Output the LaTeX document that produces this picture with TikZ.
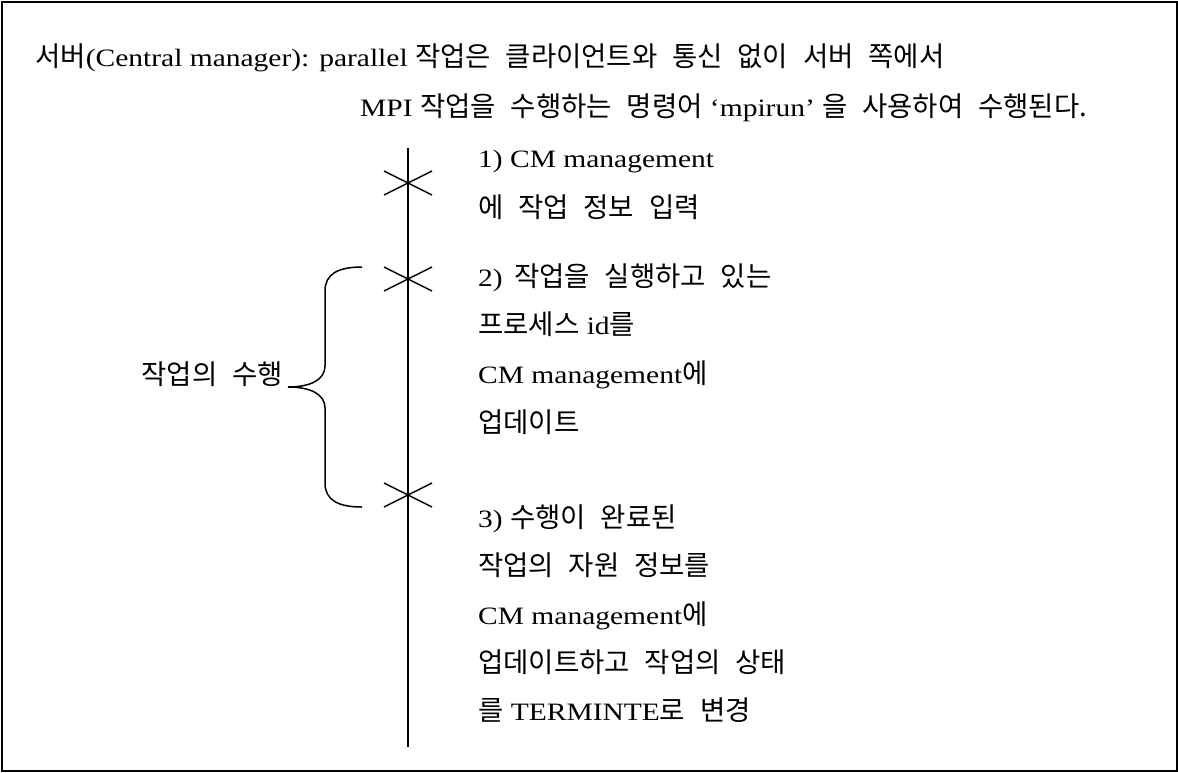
\documentclass[tikz,border=0pt]{standalone}
\usepackage{fontspec}
\setmainfont[FakeStretch=1.18]{Liberation Serif}
\newfontfamily\krfont[Scale=1.1,WordSpace=2.4]{Noto Sans CJK KR}
\newcommand\K[1]{{\krfont #1}}
\begin{document}
\begin{tikzpicture}[x=1pt,y=-1pt,
  txt/.style={anchor=base west,inner sep=0pt,font=\fontsize{25pt}{30pt}\selectfont},
  rule/.style={line width=1.6pt,black},
  crossmark/.style={line width=1.5pt,black},
  bracket/.style={line width=1.5pt,black}]
\useasboundingbox (0,0) rectangle (1178,772);
% frame
\draw[line width=2pt] (1.5,1.5) rectangle (1176.5,770.5);

% heading
\node[txt] (h1) at (35,66) {\K{서버}(Central manager): parallel \K{작업은 클라이언트와 통신 없이 서버 쪽에서}};
\node[txt] (h2) at (360,116) {MPI \K{작업을 수행하는 명령어} ‘mpirun’ \K{을 사용하여 수행된다.}};

% time line with the three events
\coordinate (top) at (408,148);
\coordinate (bot) at (408,747);
\coordinate (c1) at (408,183);
\coordinate (c2) at (408,279);
\coordinate (c3) at (408,495);
\draw[rule] (top) -- (bot);
\foreach \c in {c1,c2,c3}{
  \draw[crossmark] ([shift={(-24,-12)}]\c) -- ([shift={(24,12)}]\c);
  \draw[crossmark] ([shift={(-24,12)}]\c) -- ([shift={(24,-12)}]\c);
}

% step 1
\node[txt] (s1a) at (478,167) {1) CM management};
\node[txt] (s1b) at (478,217) {\K{에 작업 정보 입력}};

% step 2
\node[txt] (s2a) at (478,286) {2)\, \K{작업을 실행하고 있는}};
\node[txt] (s2b) at (478,334) {\K{프로세스} id\K{를}};
\node[txt] (s2c) at (478,383) {CM management\K{에}};
\node[txt] (s2d) at (478,432) {\K{업데이트}};

% step 3
\node[txt] (s3a) at (478,527) {3) \K{수행이 완료된}};
\node[txt] (s3b) at (478,575) {\K{작업의 자원 정보를}};
\node[txt] (s3c) at (478,624) {CM management\K{에}};
\node[txt] (s3d) at (478,672) {\K{업데이트하고 작업의 상태}};
\node[txt] (s3e) at (478,720) {\K{를} TERMINTE\K{로 변경}};

% brace spanning steps 2 and 3
\coordinate (bTop) at (362,267);
\coordinate (bTip) at (288,387);
\coordinate (bBot) at (362,507);
\draw[bracket] (bTop) .. controls (338,267) and (325,274) .. (325,291)
  -- (325,366) .. controls (325,380) and (310,387) .. (bTip)
  .. controls (310,387) and (325,394) .. (325,408)
  -- (325,483) .. controls (325,500) and (338,507) .. (bBot);
\node[txt,anchor=base east] (lbl) at (283,384) {\K{작업의 수행}};
\end{tikzpicture}
\end{document}
